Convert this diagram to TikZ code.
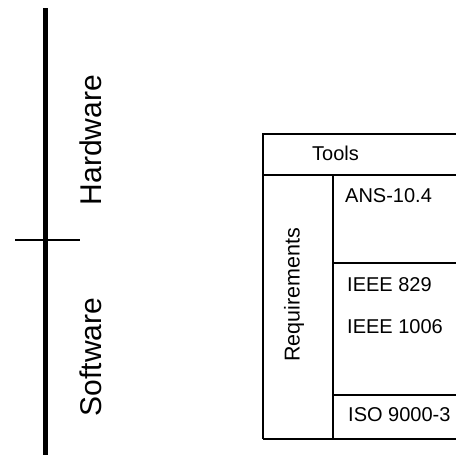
\documentclass[tikz,border=0pt]{standalone}
\usepackage{fontspec}
\setmainfont{Liberation Sans}
\usetikzlibrary{positioning}

\begin{document}
\begin{tikzpicture}[x=1pt,y=-1pt,
  axis line/.style={line width=5pt},
  tick line/.style={line width=1.8pt},
  grid line/.style={line width=1.4pt},
  side label/.style={font=\fontsize{30}{30}\selectfont, rotate=90},
  cell label/.style={font=\fontsize{20}{20}\selectfont, anchor=base west, inner sep=0pt}]

    \useasboundingbox (0,0) rectangle (456,459);
    \clip (0,0) rectangle (456,459);

    %\draw (0,0) grid (456,459);

    % the scale on the left
    \coordinate (top) at (45,8);
    \coordinate (bot) at (45,455);
    \coordinate (tickl) at (15,240);
    \coordinate (tickr) at (80,240);

    \draw[axis line] (top) -- (bot);
    \draw[tick line] (tickl) -- (tickr);

    \node[side label] (hw) at (91,140) {Hardware};
    \node[side label] (sw) at (91,357) {Software};

    % the table
    \coordinate (T1) at (263,134);
    \coordinate (T2) at (470,134);
    \coordinate (R1) at (263,175);
    \coordinate (R2) at (470,175);
    \coordinate (C1) at (333,175);
    \coordinate (C2) at (333,439);
    \coordinate (B1) at (263,439);
    \coordinate (B2) at (470,439);
    \coordinate (M1) at (333,263);
    \coordinate (M2) at (470,263);
    \coordinate (N1) at (333,395);
    \coordinate (N2) at (470,395);

    \draw[grid line] (B1) -- (T1) -- (T2);
    \draw[grid line] (R1) -- (R2);
    \draw[grid line] (C1) -- (C2);
    \draw[grid line] (M1) -- (M2);
    \draw[grid line] (N1) -- (N2);
    \draw[grid line] (B1) -- (B2);

    \node[cell label] (tools) at (312,160) {Tools};
    \node[cell label] (ans) at (345,202) {ANS-10.4};
    \node[cell label] (ieee829) at (347,291) {IEEE 829};
    \node[cell label] (ieee1006) at (347,333) {IEEE 1006};
    \node[cell label] (iso) at (348,421) {ISO 9000-3};

    \node[cell label, anchor=center, rotate=90, font=\fontsize{21.5}{21.5}\selectfont] (req) at (294,295) {Requirements};

\end{tikzpicture}
\end{document}
